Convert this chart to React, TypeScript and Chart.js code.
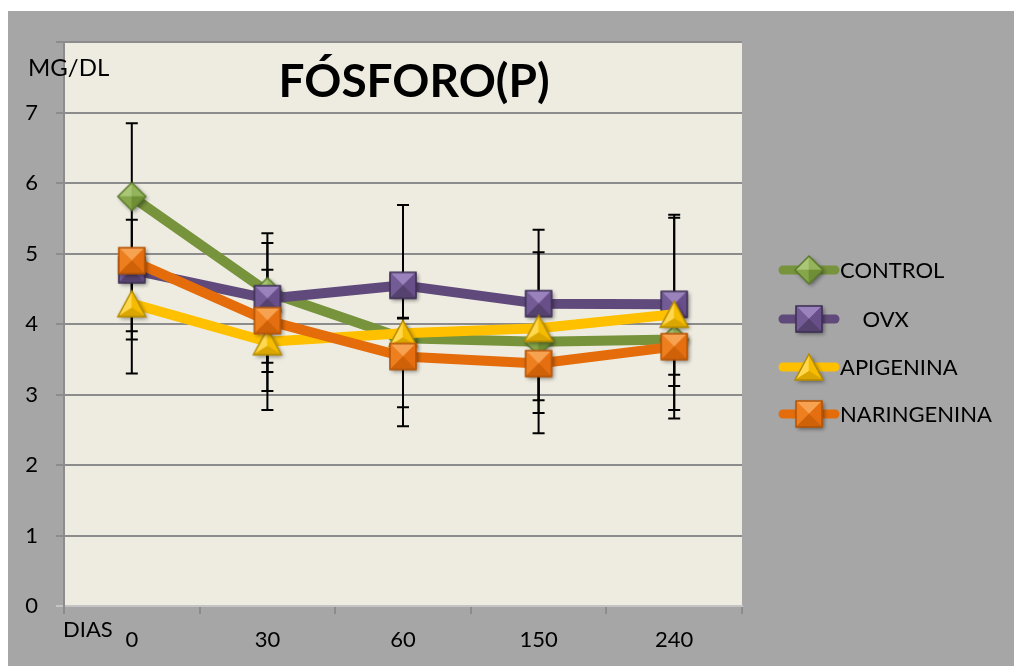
import React, { useEffect, useRef } from 'react';
import { Chart, registerables } from 'chart.js';

Chart.register(...registerables);

// ---------- data ----------
const categories = ['0', '30', '60', '150', '240'];
const seriesNames = ['CONTROL', '    OVX', 'APIGENINA', 'NARINGENINA'];

const controlValues = [5.81, 4.46, 3.8, 3.75, 3.78];
const ovxValues = [4.77, 4.36, 4.55, 4.29, 4.28];
const apigeninaValues = [4.29, 3.75, 3.87, 3.94, 4.14];
const naringeninaValues = [4.9, 4.05, 3.54, 3.44, 3.68];

// error bar lengths (upward / downward)
const controlErrUp = [1.04, 0.69, 0.28, 0.2, 0.1];
const controlErrDown = [1.04, 1.41, 0.28, 1.01, 1.12];
const ovxErrUp = [0.13, 0.93, 1.14, 1.05, 1.27];
const ovxErrDown = [1.47, 0.91, 1.14, 0.85, 1.16];
const apigeninaErrUp = [0.39, 0.3, 0.22, 1.08, 1.37];
const apigeninaErrDown = [0.39, 0.97, 1.32, 1.02, 1.36];
const naringeninaErrUp = [0.58, 0.72, 0.2, 0.2, 0.1];
const naringeninaErrDown = [1.12, 0.73, 0.72, 0.99, 0.4];

const yMin = 0;
const yMax = 8;
const yStep = 1;

const titleText = 'FÓSFORO(P)';
const yAxisText = 'MG/DL';
const xAxisText = 'DIAS';

// ---------- styles ----------
const FONT = 'Lato, "Open Sans", sans-serif';
const lineColors = ['#77933c', '#604a7b', '#ffc000', '#e46c0a'];
const markerKinds: ('diamond' | 'square' | 'triangle')[] = ['diamond', 'square', 'triangle', 'square'];
const markerPalettes = [
  ['#a9c777', '#93b45a', '#86a64a', '#6f8f37', '#5b7a2b'],
  ['#9a82bd', '#735b96', '#684f8a', '#56426f', '#3d2f52'],
  ['#ffd84d', '#f5bc00', '#dca600', '#b38a00'],
  ['#f7a251', '#ee7f1f', '#e56f10', '#cf6109', '#b35306'],
];

type Pt = [number, number];

function makeMarker(kind: 'diamond' | 'square' | 'triangle', pal: string[]): HTMLCanvasElement {
  const pad = 6;
  const size = kind === 'square' ? 26 : 28;
  const w = size + pad * 2;
  const cv = document.createElement('canvas');
  cv.width = w;
  cv.height = w;
  const ctx = cv.getContext('2d') as CanvasRenderingContext2D;
  const c = w / 2;
  const h = size / 2;
  let faces: Pt[][] = [];
  let outline: Pt[] = [];
  if (kind === 'square') {
    const tl: Pt = [c - h, c - h], tr: Pt = [c + h, c - h], br: Pt = [c + h, c + h], bl: Pt = [c - h, c + h], m: Pt = [c, c];
    faces = [[tl, tr, m], [tl, bl, m], [tr, br, m], [bl, br, m]];
    outline = [tl, tr, br, bl];
  } else if (kind === 'diamond') {
    const t: Pt = [c, c - h], r: Pt = [c + h, c], b: Pt = [c, c + h], l: Pt = [c - h, c], m: Pt = [c, c];
    faces = [[t, l, m], [t, r, m], [l, b, m], [r, b, m]];
    outline = [t, r, b, l];
  } else {
    const th = 26;
    const t: Pt = [c, c - th / 2], bl: Pt = [c - h, c + th / 2], br: Pt = [c + h, c + th / 2], m: Pt = [c, c + th / 2 - th / 3];
    faces = [[t, bl, m], [t, br, m], [bl, br, m]];
    outline = [t, br, bl];
  }
  const path = (pts: Pt[]) => {
    ctx.beginPath();
    pts.forEach((p, i) => (i === 0 ? ctx.moveTo(p[0], p[1]) : ctx.lineTo(p[0], p[1])));
    ctx.closePath();
  };
  ctx.save();
  ctx.shadowColor = 'rgba(0,0,0,0.45)';
  ctx.shadowBlur = 4;
  ctx.shadowOffsetX = 2;
  ctx.shadowOffsetY = 2;
  path(outline);
  ctx.fillStyle = pal[1];
  ctx.fill();
  ctx.restore();
  faces.forEach((f, i) => {
    path(f);
    ctx.fillStyle = pal[i];
    ctx.fill();
    ctx.strokeStyle = pal[i];
    ctx.lineWidth = 0.6;
    ctx.stroke();
  });
  path(outline);
  ctx.strokeStyle = pal[pal.length - 1];
  ctx.lineWidth = 1.5;
  ctx.stroke();
  return cv;
}

export default function App() {
  const canvasRef = useRef<HTMLCanvasElement | null>(null);

  useEffect(() => {
    let chart: Chart | null = null;
    let cancelled = false;

    const build = () => {
      if (cancelled || !canvasRef.current) return;
      const markers = markerKinds.map((k, i) => makeMarker(k, markerPalettes[i]));
      const values = [controlValues, ovxValues, apigeninaValues, naringeninaValues];
      const errUp = [controlErrUp, ovxErrUp, apigeninaErrUp, naringeninaErrUp];
      const errDown = [controlErrDown, ovxErrDown, apigeninaErrDown, naringeninaErrDown];

      const bgPlugin = {
        id: 'bg',
        beforeDraw(ch: any) {
          const { ctx, chartArea } = ch;
          ctx.save();
          ctx.fillStyle = '#a6a6a6';
          ctx.fillRect(0, 0, ch.width, ch.height);
          ctx.fillStyle = '#eeece1';
          ctx.fillRect(chartArea.left, chartArea.top, chartArea.right - chartArea.left, chartArea.bottom - chartArea.top);
          ctx.restore();
        },
      };

      const errPlugin = {
        id: 'errbars',
        beforeDatasetsDraw(ch: any) {
          const { ctx } = ch;
          const xs = ch.scales.x;
          const ys = ch.scales.y;
          ctx.save();
          ctx.strokeStyle = '#000';
          ctx.lineWidth = 2;
          values.forEach((vals, s) => {
            vals.forEach((v, i) => {
              const x = xs.getPixelForValue(i);
              const yTop = ys.getPixelForValue(v + errUp[s][i]);
              const yBot = ys.getPixelForValue(v - errDown[s][i]);
              ctx.beginPath();
              ctx.moveTo(x, yTop);
              ctx.lineTo(x, yBot);
              ctx.moveTo(x - 6, yTop);
              ctx.lineTo(x + 6, yTop);
              ctx.moveTo(x - 6, yBot);
              ctx.lineTo(x + 6, yBot);
              ctx.stroke();
            });
          });
          ctx.restore();
        },
      };

      const textPlugin = {
        id: 'texts',
        afterDraw(ch: any) {
          const { ctx } = ch;
          ctx.save();
          ctx.fillStyle = '#000';
          ctx.textBaseline = 'alphabetic';
          ctx.textAlign = 'center';
          ctx.font = `bold 46px ${FONT}`;
          ctx.fillText(titleText, 406, 86);
          ctx.textAlign = 'left';
          ctx.font = `24px ${FONT}`;
          ctx.fillText(yAxisText, 20, 65);
          ctx.font = `22px ${FONT}`;
          ctx.fillText(xAxisText, 55, 626);
          // legend
          const rows = [259, 308, 356, 403];
          seriesNames.forEach((name, i) => {
            const y = rows[i];
            ctx.beginPath();
            ctx.lineCap = 'round';
            ctx.lineWidth = 9;
            ctx.strokeStyle = lineColors[i];
            ctx.moveTo(775, y);
            ctx.lineTo(827, y);
            ctx.stroke();
            const m = markers[i];
            ctx.drawImage(m, 801 - m.width / 2, y - m.height / 2);
            ctx.fillStyle = '#000';
            ctx.textBaseline = 'middle';
            ctx.font = `22px ${FONT}`;
            ctx.fillText(name, 832, y + 1);
          });
          ctx.restore();
        },
      };

      chart = new Chart(canvasRef.current, {
        type: 'line',
        data: {
          labels: categories,
          datasets: values.map((vals, i) => ({
            label: seriesNames[i].trim(),
            data: vals,
            borderColor: lineColors[i],
            backgroundColor: lineColors[i],
            borderWidth: 10,
            borderJoinStyle: 'round',
            borderCapStyle: 'round',
            tension: 0,
            pointStyle: markers[i] as any,
            pointRadius: 14,
            fill: false,
            order: 4 - i,
          })) as any,
        },
        options: {
          animation: false,
          responsive: false,
          devicePixelRatio: 1,
          layout: { padding: { left: 0, top: 30, right: 272, bottom: 0 } },
          plugins: {
            legend: { display: false },
            title: { display: false },
            tooltip: { enabled: false },
          },
          scales: {
            x: {
              type: 'category',
              offset: true,
              afterFit: (s: any) => {
                s.height = 60;
              },
              grid: {
                offset: true,
                drawOnChartArea: false,
                drawTicks: true,
                tickLength: 8,
                color: '#8c8c8c',
                lineWidth: 2,
              },
              border: { display: true, color: '#c4c4c4', width: 2 },
              ticks: {
                color: '#000',
                font: { family: FONT, size: 22 },
                padding: 13,
                maxRotation: 0,
              },
            },
            y: {
              min: yMin,
              max: yMax,
              afterFit: (s: any) => {
                s.width = 56;
              },
              grid: {
                color: (c: any) => (c.tick && c.tick.value === 0 ? '#c4c4c4' : '#8c8c8c'),
                lineWidth: 2,
                tickLength: 8,
              },
              border: { display: true, color: '#8c8c8c', width: 2 },
              ticks: {
                stepSize: yStep,
                color: '#000',
                font: { family: FONT, size: 22 },
                padding: 18,
                callback: (v: any) => (Number(v) === yMax ? '' : String(v)),
              },
            },
          },
        },
        plugins: [bgPlugin, errPlugin, textPlugin],
      });
    };

    const fontsReady = (document as any).fonts
      ? Promise.all([
          (document as any).fonts.load(`22px Lato`),
          (document as any).fonts.load(`bold 46px Lato`),
        ]).catch(() => null)
      : Promise.resolve(null);
    fontsReady.then(build);

    return () => {
      cancelled = true;
      if (chart) chart.destroy();
    };
  }, []);

  return (
    <div style={{ position: 'absolute', left: 8, top: 11, width: 1006, height: 655 }}>
      <canvas ref={canvasRef} width={1006} height={655} style={{ display: 'block' }} />
    </div>
  );
}
